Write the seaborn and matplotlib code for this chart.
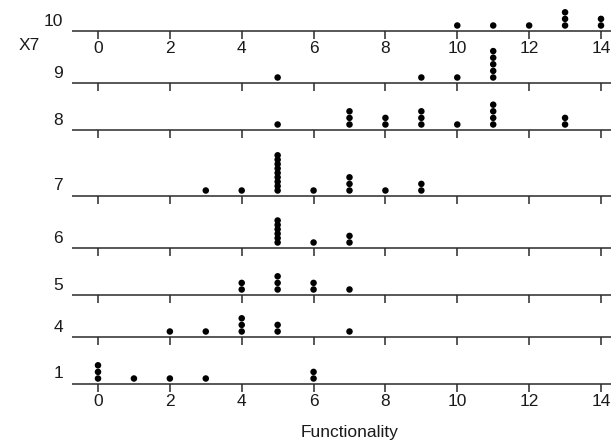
import numpy as np
import pandas as pd
import matplotlib
matplotlib.use("Agg")
import matplotlib.pyplot as plt
import seaborn as sns

sns.set_theme(style="white")
plt.rcParams['font.family'] = ['Liberation Sans', 'DejaVu Sans']

# ---- data (Functionality values per X7 group) ----
x7_groups = ["10", "9", "8", "7", "6", "5", "4", "1"]
func_10 = [10, 11, 12, 13, 13, 13, 14, 14]
func_9 = [5, 9, 10, 11, 11, 11, 11, 11]
func_8 = [5, 7, 7, 7, 8, 8, 9, 9, 9, 10, 11, 11, 11, 11, 13, 13]
func_7 = [3, 4, 5, 5, 5, 5, 5, 5, 5, 5, 5, 6, 7, 7, 7, 8, 9, 9]
func_6 = [5, 5, 5, 5, 5, 5, 6, 7, 7]
func_5 = [4, 4, 5, 5, 5, 6, 6, 7]
func_4 = [2, 3, 4, 4, 4, 5, 5, 7]
func_1 = [0, 0, 0, 1, 2, 3, 6, 6]
x_ticks = [0, 2, 4, 6, 8, 10, 12, 14]

values = {"10": func_10, "9": func_9, "8": func_8, "7": func_7,
          "6": func_6, "5": func_5, "4": func_4, "1": func_1}

# ---- layout ----
W, H = 611, 443
fig = plt.figure(figsize=(W / 100, H / 100), dpi=100)
ax = fig.add_axes([0, 0, 1, 1])
px0, px14 = 98, 601
ppu = (px14 - px0) / 14.0
xmin = -px0 / ppu
xmax = 14 + (W - px14) / ppu
ax.set_xlim(xmin, xmax)
ax.set_ylim(H, 0)
ax.axis("off")

baseline = {"10": 31, "9": 83, "8": 130, "7": 196, "6": 248, "5": 295, "4": 337, "1": 384}

rows = []
for g in x7_groups:
    counts = pd.Series(values[g]).value_counts().sort_index()
    for v, n in counts.items():
        step = 6.6 if n <= 5 else 4.4
        for k in range(n):
            rows.append({"X7": g, "Functionality": v, "ypx": baseline[g] - 5.5 - k * step})
df = pd.DataFrame(rows)

sns.scatterplot(data=df, x="Functionality", y="ypx", color="black", s=22,
                edgecolor="none", linewidth=0, ax=ax, legend=False, zorder=3)

line_color = "#2a2a2a"
line_start = (72 - px0) / ppu
for g in x7_groups:
    y = baseline[g]
    ax.hlines(y, line_start, xmax, color=line_color, lw=1.1)
    ax.vlines(x_ticks, y, y + 8, color=line_color, lw=1.1)
    ax.text((63 - px0) / ppu, y - 10, g, ha="right", va="center", fontsize=12.5, color="#1a1a1a")

for g in ["10", "1"]:
    y = baseline[g]
    for t in x_ticks:
        ax.text(t, y + 17, str(t), ha="center", va="center", fontsize=12.5, color="#1a1a1a")

ax.text((29 - px0) / ppu, 45, "X7", ha="center", va="center", fontsize=12.5, color="#1a1a1a")
ax.text(7, 432, "Functionality", ha="center", va="center", fontsize=12.5, color="#1a1a1a")

fig.savefig("out.png", dpi=100)
